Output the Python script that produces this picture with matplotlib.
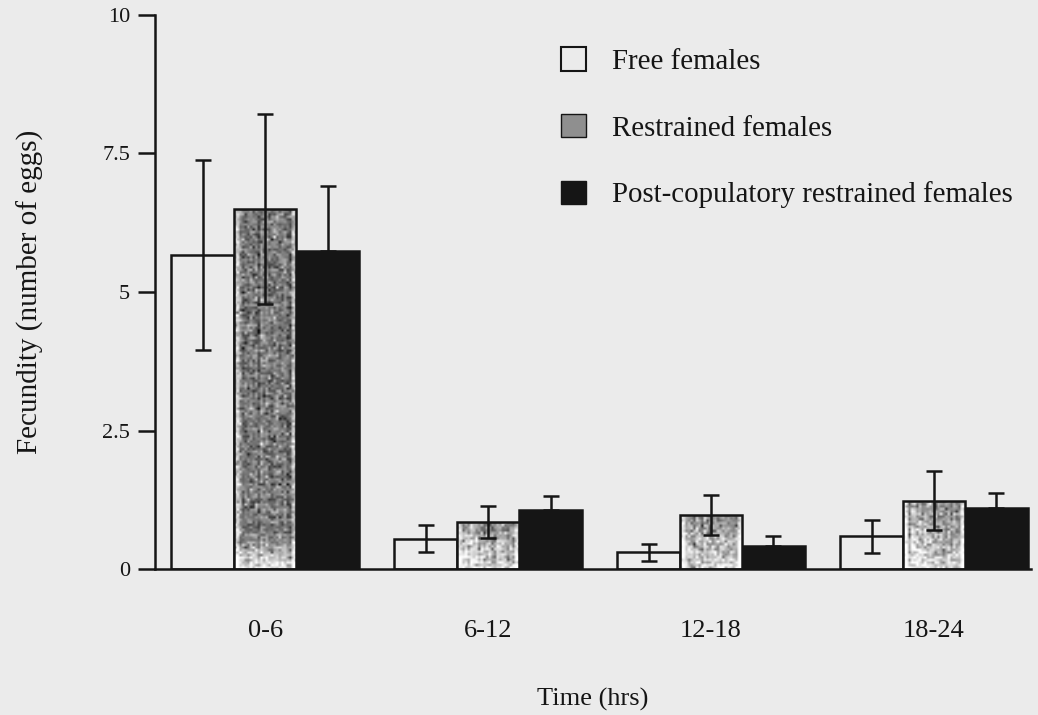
import numpy as np
import matplotlib
matplotlib.use("Agg")
import matplotlib.pyplot as plt
from matplotlib.patches import Patch

plt.rcParams["font.family"] = ["Liberation Serif", "DejaVu Serif"]

# Fecundity per 6-hour interval (mean and SE)
periods = ["0-6", "6-12", "12-18", "18-24"]
free_mean = [5.67, 0.55, 0.30, 0.59]
free_se = [1.71, 0.25, 0.16, 0.30]
restr_mean = [6.50, 0.85, 0.98, 1.23]
restr_se = [1.72, 0.29, 0.36, 0.53]
post_mean = [5.74, 1.06, 0.42, 1.11]
post_se = [1.18, 0.26, 0.17, 0.27]
series_names = ["Free females", "Restrained females",
                "Post-copulatory restrained females"]
yticks = [0, 2.5, 5, 7.5, 10]
ytick_labels = ["0", "2.5", "5", "7.5", "10"]

BG = "#ebebeb"
INK = "#151515"

fig = plt.figure(figsize=(10.38, 7.15), dpi=100, facecolor=BG)
ax = fig.add_axes([155 / 1038, 1 - 569 / 715, (1031 - 155) / 1038, (569 - 15) / 715])
ax.set_facecolor("none")

x = np.arange(len(periods))
w = 0.28
lw = 1.8

free_bars = ax.bar(x - w, free_mean, w, facecolor="none", edgecolor=INK,
                   linewidth=lw, zorder=2)
restr_bars = ax.bar(x, restr_mean, w, facecolor="none", edgecolor=INK,
                    linewidth=lw, zorder=3)
post_bars = ax.bar(x + w, post_mean, w, facecolor=INK, edgecolor=INK,
                   linewidth=lw, zorder=2)

# stippled grey screen for the restrained bars
rng = np.random.default_rng(11)
for bar in restr_bars:
    x0, h = bar.get_x(), bar.get_height()
    rows = max(int(h * 55 / 2.5), 6)
    cols = 24
    frac = np.linspace(1, 0, rows)[:, None]  # 1 at top, 0 at bottom
    if h > 3:
        base = 0.47 + 0.45 * np.clip((0.10 - frac) / 0.10, 0, 1) ** 1.2
        spread = 0.13
    else:
        base = 0.55 + 0.30 * (1 - frac)
        spread = 0.15
    streak = rng.normal(0, 0.07, (1, cols))
    tex = base + streak + rng.normal(0, spread, (rows, cols))
    tex[:, :2] += 0.25
    tex[:, -2:] += 0.25
    tex = np.clip(tex, 0, 1)
    im = ax.imshow(tex, cmap="gray", vmin=0, vmax=1, aspect="auto",
                   interpolation="bilinear",
                   extent=(x0, x0 + w, 0, h), zorder=2)
    im.set_clip_path(bar)

ekw = dict(fmt="none", ecolor=INK, elinewidth=1.8, capsize=6, capthick=1.8,
           zorder=4)
ax.errorbar(x - w, free_mean, yerr=free_se, **ekw)
ax.errorbar(x, restr_mean, yerr=restr_se, **ekw)
ax.errorbar(x + w, post_mean, yerr=[np.zeros(len(post_se)), post_se], **ekw)

ax.set_xlim(-0.494, 3.435)
ax.set_ylim(0, 10)
ax.set_yticks(yticks)
ax.set_yticklabels(ytick_labels, fontsize=16)
ax.set_xticks(x)
ax.set_xticklabels(periods, fontsize=19)
ax.tick_params(axis="y", length=12, width=1.8, pad=6, color=INK, labelcolor=INK)
ax.tick_params(axis="x", length=0, pad=37, labelcolor=INK)
for s in ("top", "right"):
    ax.spines[s].set_visible(False)
for s in ("left", "bottom"):
    ax.spines[s].set_linewidth(1.8)
    ax.spines[s].set_color(INK)

ax.set_ylabel("Fecundity (number of eggs)", fontsize=21, color=INK, labelpad=42)
ax.set_xlabel("Time (hrs)", fontsize=19, color=INK, labelpad=33)

handles = [Patch(facecolor="none", edgecolor=INK, linewidth=1.5),
           Patch(facecolor="#8f8f8f", edgecolor=INK, linewidth=1.0),
           Patch(facecolor=INK, edgecolor=INK, linewidth=1.0)]
ax.legend(handles, series_names, loc="upper left",
          bbox_to_anchor=(561 / 1038, 1 - 47 / 715),
          bbox_transform=fig.transFigure, frameon=False, fontsize=20.8,
          handlelength=0.88, handleheight=0.88, handletextpad=0.9,
          labelspacing=1.35, borderpad=0, borderaxespad=0,
          labelcolor=INK)

fig.savefig("out.png", dpi=100, facecolor=BG)
